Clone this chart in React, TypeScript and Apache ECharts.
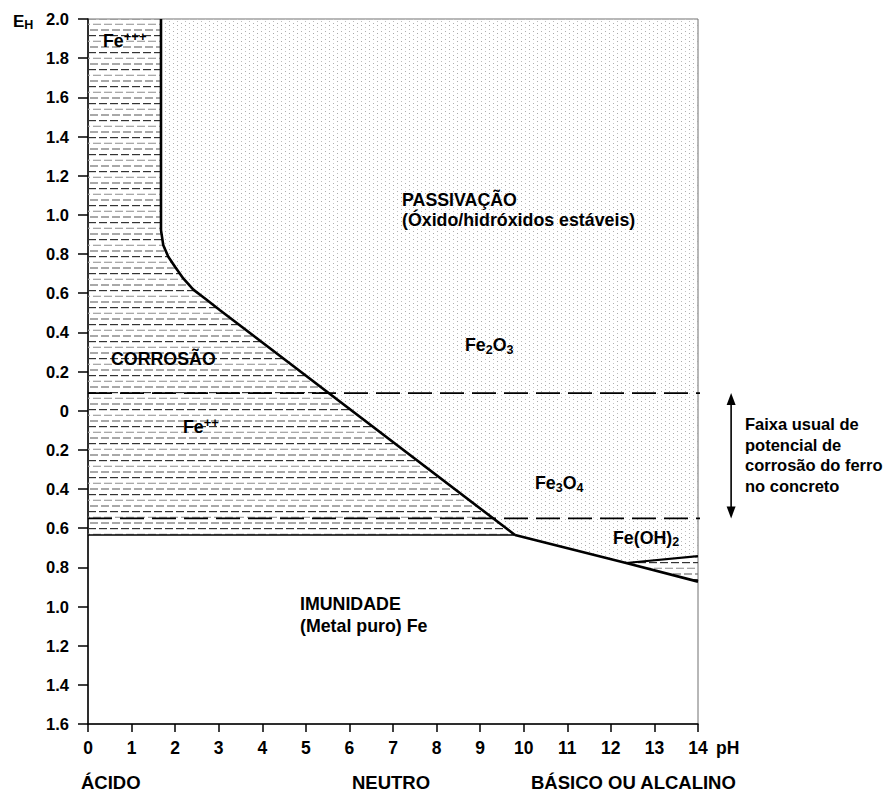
import React, { useEffect, useRef } from "react";
import * as echarts from "echarts";

// ---- axes ----
const PH_MIN = 0;
const PH_MAX = 14;
const PH_STEP = 1;
const E_MIN = -1.6;
const E_MAX = 2.0;
const E_STEP = 0.2;

// ---- boundaries (pH, E_H in V) ----
// corrosion (Fe+++ / Fe++) | passivation (oxides)
const boundaryPH = [1.675, 1.675, 1.728, 1.843, 1.997, 2.187, 2.417, 2.685, 3.03, 9.8];
const boundaryE = [2.0, 0.922, 0.845, 0.786, 0.735, 0.675, 0.618, 0.573, 0.513, -0.635];
// corrosion | immunity
const corrosionFloorPH = [0, 9.8];
const corrosionFloorE = [-0.635, -0.635];
// passivation | immunity
const immunityTopPH = [9.8, 12.35, 14];
const immunityTopE = [-0.635, -0.778, -0.873];
// Fe(OH)2 upper branch
const hydroxidePH = [12.35, 14];
const hydroxideE = [-0.778, -0.743];
// usual corrosion potential of steel in concrete
const concreteE = [0.09, -0.55];
const concreteLinePH = [0, 15.1];
const concreteArrowPH = 14.76;

const FONT = '"Liberation Sans", Arial, Helvetica, sans-serif';

const zip = (xs: number[], ys: number[]) => xs.map((x, i) => [x, ys[i]]);

const svgUrl = (w: number, h: number, body: string) => ({
  image:
    "data:image/svg+xml;utf8," +
    encodeURIComponent(
      `<svg xmlns='http://www.w3.org/2000/svg' width='${w}' height='${h}'>${body}</svg>`
    ),
  repeat: "repeat",
  imageWidth: w,
  imageHeight: h,
});

const hatchFill = svgUrl(
  11,
  17,
  "<rect x='0' y='1' width='8' height='1.2' fill='#333'/>" +
    "<rect x='5' y='6.7' width='6' height='1.2' fill='#a0a0a0'/><rect x='0' y='6.7' width='2' height='1.2' fill='#a0a0a0'/>" +
    "<rect x='2' y='12.4' width='8' height='1.2' fill='#707070'/>"
);

const dotFill = svgUrl(
  8,
  8,
  "<rect x='1' y='1' width='1' height='1' fill='#a8a8a8'/>" +
    "<rect x='5' y='3' width='1' height='1' fill='#c4c4c4'/>" +
    "<rect x='1' y='5' width='1' height='1' fill='#bcbcbc'/>" +
    "<rect x='5' y='7' width='1' height='1' fill='#b0b0b0'/>"
);

function regionSeries(poly: number[][], fill: any) {
  return {
    type: "custom",
    coordinateSystem: "cartesian2d",
    silent: true,
    z: 1,
    data: [poly[0]],
    renderItem: (_params: any, api: any) => ({
      type: "polygon",
      shape: { points: poly.map((p) => api.coord(p)) },
      style: { fill, stroke: null },
    }),
  };
}

function lineSeries(data: number[][], width: number, extra: any = {}) {
  return {
    type: "line",
    data,
    symbol: "none",
    silent: true,
    z: 3,
    lineStyle: { color: "#000", width, ...(extra.lineStyle || {}) },
    clip: extra.clip ?? true,
  };
}

const richBase = {
  b: { fontFamily: FONT, fontWeight: "bold", fontSize: 17.8, lineHeight: 22, fill: "#000" },
  sub: { fontFamily: FONT, fontWeight: "bold", fontSize: 12.5, lineHeight: 12, verticalAlign: "bottom", fill: "#000" },
  sup: { fontFamily: FONT, fontWeight: "bold", fontSize: 13, lineHeight: 13, verticalAlign: "top", fill: "#000" },
};

function label(x: number, y: number, text: string, size = 17.8, extra: any = {}) {
  return {
    type: "text",
    x,
    y,
    silent: true,
    z: 10,
    style: {
      text,
      fontFamily: FONT,
      fontWeight: "bold",
      fontSize: size,
      fill: "#000",
      align: "left",
      verticalAlign: "middle",
      textAlign: "left",
      textVerticalAlign: "middle",
      ...extra,
    },
  };
}

function richLabel(x: number, y: number, text: string) {
  return label(x, y, text, 17.8, { rich: richBase });
}

export default function App() {
  const ref = useRef<HTMLDivElement>(null);

  useEffect(() => {
    document.body.style.margin = "0";
    if (!ref.current) return;
    const chart = echarts.init(ref.current, null, { renderer: "svg" });

    const boundary = zip(boundaryPH, boundaryE);
    const hydroxide = zip(hydroxidePH, hydroxideE);
    const immunityTop = zip(immunityTopPH, immunityTopE);

    const corrosionPoly = [[PH_MIN, E_MAX], ...boundary, [corrosionFloorPH[0], corrosionFloorE[0]]];
    const passivationPoly = [[PH_MAX, E_MAX], ...hydroxide.slice().reverse(), ...boundary.slice().reverse()];
    const trianglePoly = [...hydroxide, immunityTop[immunityTop.length - 1]];

    const axisText = { color: "#000", fontFamily: FONT, fontWeight: "bold" as const };

    const option: any = {
      animation: false,
      grid: {
        left: 88,
        top: 19,
        width: 610,
        height: 705,
        show: true,
        borderColor: "#707070",
        borderWidth: 1,
        backgroundColor: "transparent",
      },
      xAxis: {
        type: "value",
        min: PH_MIN,
        max: PH_MAX,
        interval: PH_STEP,
        axisLine: { show: true, onZero: false, lineStyle: { color: "#000", width: 1.5 } },
        axisTick: { show: true, length: 8, lineStyle: { color: "#000", width: 1.5 } },
        axisLabel: { ...axisText, fontSize: 17.5, margin: 15 },
        splitLine: { show: false },
      },
      yAxis: {
        type: "value",
        min: E_MIN,
        max: E_MAX,
        interval: E_STEP,
        axisLine: { show: true, onZero: false, lineStyle: { color: "#000", width: 1.5 } },
        axisTick: { show: true, length: 10, lineStyle: { color: "#000", width: 1.5 } },
        axisLabel: {
          ...axisText,
          fontSize: 16.5,
          margin: 19,
          formatter: (v: number) => (Math.abs(v) < 1e-9 ? "0" : Math.abs(v).toFixed(1)),
        },
        splitLine: { show: false },
      },
      series: [
        regionSeries(corrosionPoly, hatchFill),
        regionSeries(passivationPoly, dotFill),
        regionSeries(trianglePoly, hatchFill),
        lineSeries(boundary, 2.6),
        lineSeries(zip(corrosionFloorPH, corrosionFloorE), 1.5),
        lineSeries(immunityTop, 2.6),
        lineSeries(hydroxide, 2.2),
        lineSeries(zip(concreteLinePH, [concreteE[0], concreteE[0]]), 1.8, {
          clip: false,
          lineStyle: { type: [24, 8] },
        }),
        lineSeries(zip(concreteLinePH, [concreteE[1], concreteE[1]]), 1.8, {
          clip: false,
          lineStyle: { type: [24, 8] },
        }),
        {
          type: "custom",
          coordinateSystem: "cartesian2d",
          silent: true,
          clip: false,
          z: 4,
          data: [[concreteArrowPH, concreteE[0], concreteE[1]]],
          encode: { x: 0, y: [1, 2] },
          renderItem: (_p: any, api: any) => {
            const top = api.coord([api.value(0), api.value(1)]);
            const bot = api.coord([api.value(0), api.value(2)]);
            const h = 12;
            const w = 4.5;
            return {
              type: "group",
              children: [
                {
                  type: "line",
                  shape: { x1: top[0], y1: top[1] + h - 1, x2: bot[0], y2: bot[1] - h + 1 },
                  style: { stroke: "#000", lineWidth: 1.6 },
                },
                {
                  type: "polygon",
                  shape: { points: [[top[0], top[1]], [top[0] - w, top[1] + h], [top[0] + w, top[1] + h]] },
                  style: { fill: "#000" },
                },
                {
                  type: "polygon",
                  shape: { points: [[bot[0], bot[1]], [bot[0] - w, bot[1] - h], [bot[0] + w, bot[1] - h]] },
                  style: { fill: "#000" },
                },
              ],
            };
          },
        },
      ],
      graphic: [
        label(13, 21, "{e|E}{h|H}", 17, {
          rich: {
            e: { fontFamily: FONT, fontWeight: "bold", fontSize: 17, lineHeight: 20 },
            h: { fontFamily: FONT, fontWeight: "bold", fontSize: 12.5, lineHeight: 13, verticalAlign: "bottom" },
          },
        }),
        richLabel(103, 41, "{b|Fe}{sup|+++}"),
        label(402, 209.75, "PASSIVAÇÃO\n(Óxido/hidróxidos estáveis)", 17.8, { lineHeight: 20.5 }),
        richLabel(465, 345, "{b|Fe}{sub|2}{b|O}{sub|3}"),
        label(111, 359, "CORROSÃO"),
        richLabel(183, 427, "{b|Fe}{sup|++}"),
        richLabel(535, 483, "{b|Fe}{sub|3}{b|O}{sub|4}"),
        richLabel(613, 537.5, "{b|Fe(OH)}{sub|2}"),
        label(300, 615, "IMUNIDADE\n(Metal puro) Fe", 17.8, { lineHeight: 21.5 }),
        label(745, 455, "Faixa usual de\npotencial de\ncorrosão do ferro\nno concreto", 16.5, {
          lineHeight: 20.67,
        }),
        label(716, 748, "pH", 17.5),
        label(81, 782, "ÁCIDO", 18.5),
        label(352, 782, "NEUTRO", 18.5),
        label(531, 782, "BÁSICO OU ALCALINO", 18.5),
      ],
    };

    chart.setOption(option);
    return () => chart.dispose();
  }, []);

  return <div ref={ref} style={{ width: 884, height: 792 }} />;
}
